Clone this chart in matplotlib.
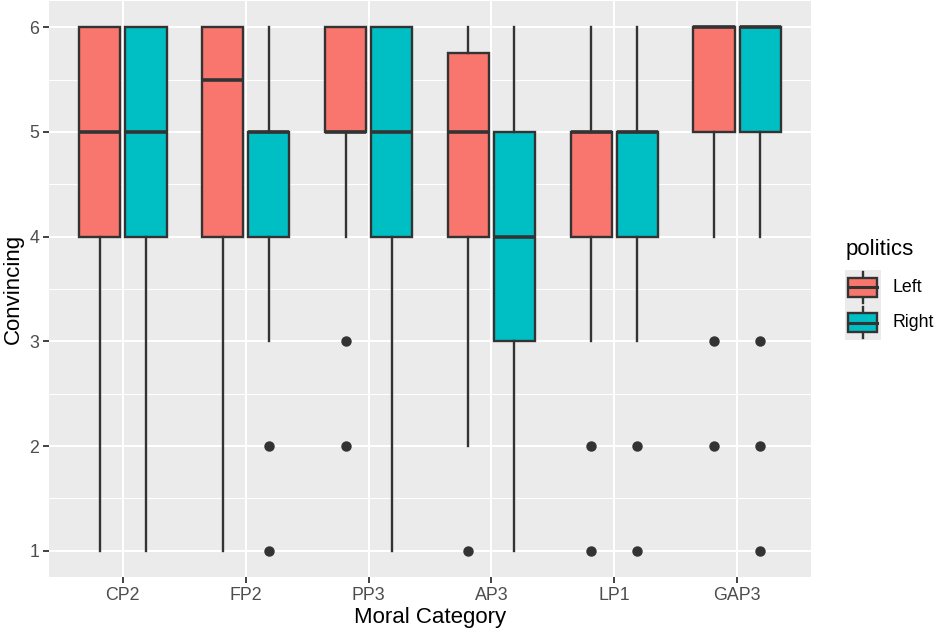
import matplotlib
matplotlib.use("Agg")
import matplotlib.pyplot as plt
from matplotlib.patches import Rectangle
import numpy as np

plt.rcParams["font.family"] = ["Liberation Sans", "DejaVu Sans"]

categories = ["CP2", "FP2", "PP3", "AP3", "LP1", "GAP3"]
groups = ["Left", "Right"]
colors = {"Left": "#F8766D", "Right": "#00BFC4"}

# (whislo, q1, med, q3, whishi)
left_stats = [
    (1, 4, 5, 6, 6),
    (1, 4, 5.5, 6, 6),
    (4, 5, 5, 6, 6),
    (2, 4, 5, 5.75, 6),
    (3, 4, 5, 5, 6),
    (4, 5, 6, 6, 6),
]
right_stats = [
    (1, 4, 5, 6, 6),
    (3, 4, 5, 5, 6),
    (1, 4, 5, 6, 6),
    (1, 3, 4, 5, 6),
    (3, 4, 5, 5, 6),
    (4, 5, 6, 6, 6),
]
left_outliers = [[], [], [3, 2], [1], [2, 1], [3, 2]]
right_outliers = [[], [2, 1], [], [], [2, 1], [3, 2, 1]]

W, H = 935, 632
fig = plt.figure(figsize=(W / 100, H / 100), dpi=100)
ax = fig.add_axes([49 / W, (H - 577) / H, 762 / W, 576 / H])
ax.set_facecolor("#EBEBEB")

line_col = "#333333"
box_w = 0.3375
offsets = {"Left": -0.1875, "Right": 0.1875}

def to_stats(s, fl):
    return dict(whislo=s[0], q1=s[1], med=s[2], q3=s[3], whishi=s[4], fliers=fl)

for g, stats, outs in [("Left", left_stats, left_outliers), ("Right", right_stats, right_outliers)]:
    bstats = [to_stats(s, o) for s, o in zip(stats, outs)]
    pos = np.arange(1, len(categories) + 1) + offsets[g]
    ax.bxp(bstats, positions=pos, widths=box_w, patch_artist=True,
           showcaps=False, manage_ticks=False,
           boxprops=dict(facecolor=colors[g], edgecolor=line_col, linewidth=1.7),
           medianprops=dict(color=line_col, linewidth=2.6, solid_capstyle="butt"),
           whiskerprops=dict(color=line_col, linewidth=1.7),
           flierprops=dict(marker="o", markerfacecolor=line_col, markeredgecolor=line_col,
                           markersize=6.5, linestyle="none"),
           zorder=3)

ax.set_xlim(0.4, len(categories) + 0.6)
ax.set_ylim(0.75, 6.25)
ax.set_xticks(np.arange(1, len(categories) + 1))
ax.set_xticklabels(categories)
ax.set_yticks([1, 2, 3, 4, 5, 6])
ax.set_yticks([1.5, 2.5, 3.5, 4.5, 5.5], minor=True)

ax.grid(which="major", color="white", linewidth=1.5, zorder=0)
ax.grid(which="minor", axis="y", color="white", linewidth=0.75, zorder=0)
ax.set_axisbelow(True)
for sp in ax.spines.values():
    sp.set_visible(False)
ax.tick_params(which="major", length=4, width=1.3, color=line_col,
               labelsize=12.8, labelcolor="#4D4D4D", pad=3)
ax.tick_params(which="minor", length=0)

ax.set_xlabel("Moral Category", fontsize=16, color="black", labelpad=2)
ax.set_ylabel("Convincing", fontsize=16, color="black", labelpad=4)

# Legend
fig.text(846 / W, 1 - 250 / H, "politics", fontsize=16, ha="left", va="center")
lax = fig.add_axes([845 / W, 1 - 340 / H, 36 / W, 70 / H])
lax.set_xlim(0, 1)
lax.set_ylim(0, 2)
lax.axis("off")
lax.add_patch(Rectangle((0, 0), 1, 2, facecolor="#EBEBEB", edgecolor="none"))
for i, g in enumerate(groups):
    yc = 1.5 - i
    lax.plot([0.5, 0.5], [yc - 0.43, yc + 0.43], color=line_col, lw=1.7)
    lax.add_patch(Rectangle((0.09, yc - 0.26), 0.8, 0.52, facecolor=colors[g],
                            edgecolor=line_col, lw=1.7, zorder=3))
    lax.plot([0.09, 0.89], [yc, yc], color=line_col, lw=2.2, zorder=4)
    fig.text(892 / W, 1 - (288 + 35 * i) / H, g, fontsize=12.8, ha="left", va="center")

fig.savefig("out.png", dpi=100)
